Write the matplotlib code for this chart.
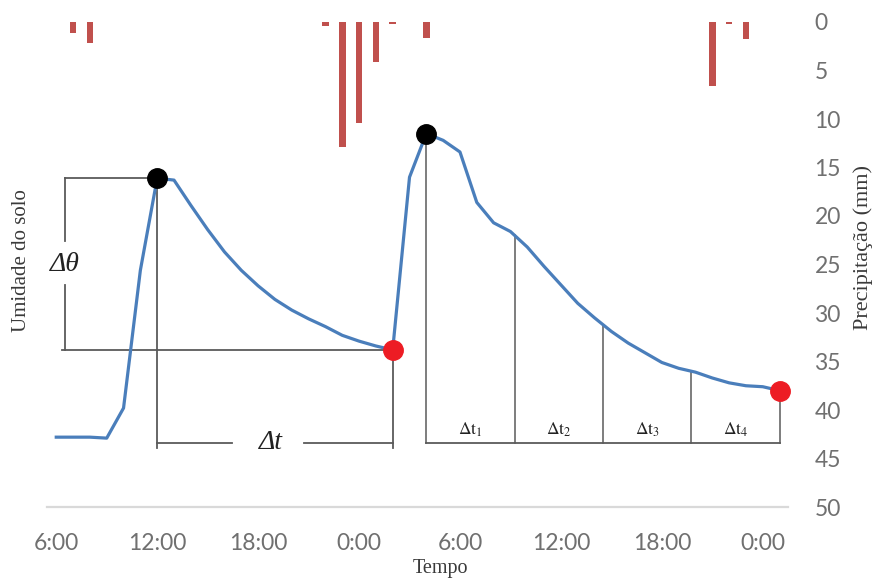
import numpy as np
import matplotlib.pyplot as plt

plt.rcParams['mathtext.fontset'] = 'stix'

# Umidade do solo (unidade arbitraria), uma leitura por hora a partir das 6:00
horas = np.arange(44)
umidade = [7.2, 7.2, 7.2, 7.1, 10.2, 24.4, 33.9, 33.7, 31.1, 28.6,
           26.3, 24.4, 22.8, 21.4, 20.3, 19.4, 18.6, 17.7, 17.1, 16.6,
           16.2, 34.0, 38.5, 37.8, 36.6, 31.4, 29.3, 28.4, 26.8, 24.8,
           22.9, 21.0, 19.5, 18.1, 16.9, 15.9, 14.9, 14.3, 13.9, 13.3,
           12.8, 12.5, 12.4, 12.0]

# Precipitacao (mm)
horas_chuva = [1, 2, 16, 17, 18, 19, 20, 22, 39, 40, 41]
chuva = [1.1, 2.2, 0.4, 12.9, 10.4, 4.1, 0.2, 1.7, 6.6, 0.2, 1.8]

ticks_x = [0, 6, 12, 18, 24, 30, 36, 42]
rotulos_x = ['6:00', '12:00', '18:00', '0:00', '6:00', '12:00', '18:00', '0:00']

# indices dos picos e dos fins de cada evento
i_pico1, i_fim1, i_pico2, i_fim2 = 6, 20, 22, 43

azul = '#4A7EBB'
cinza = '#5a5a5a'
umidade = np.array(umidade)

fig = plt.figure(figsize=(8.72, 5.78), dpi=100)
ax = fig.add_axes([47/872, 71/578, 741/872, 485/578])
ax2 = ax.twinx()

ax.bar(horas_chuva, chuva, width=0.4, color='#C0504D')
ax.set_xlim(-0.55, 43.5)
ax.set_ylim(50, 0)
ax.set_yticks(range(0, 51, 5))
ax.yaxis.tick_right()
ax.set_xticks(ticks_x)
ax.set_xticklabels(rotulos_x)
ax.tick_params(axis='both', length=0, labelsize=16.5, labelcolor='#707070')
ax.tick_params(axis='y', pad=19)
ax.tick_params(axis='x', pad=19)
for lab in ax.get_xticklabels() + ax.get_yticklabels():
    lab.set_family('Lato')
for s in ['top', 'left', 'right']:
    ax.spines[s].set_visible(False)
ax.spines['bottom'].set_color('#d9d9d9')
ax.spines['bottom'].set_linewidth(1.6)

ax2.set_ylim(0, 50)
ax2.set_yticks([])
for s in ax2.spines.values():
    s.set_visible(False)

ax2.plot(horas, umidade, color=azul, lw=2.3, zorder=3)

# Delta theta
xb = 0.5
t_top, t_bot = umidade[i_pico1], umidade[i_fim1]
t_mid = (t_top + t_bot) / 2
ax2.plot([xb, horas[i_pico1]], [t_top, t_top], color=cinza, lw=1.3)
ax2.plot([0.35, horas[i_fim1]], [t_bot, t_bot], color=cinza, lw=1.3)
ax2.plot([xb, xb], [t_top, t_mid + 2.4], color=cinza, lw=1.3)
ax2.plot([xb, xb], [t_mid - 2.2, t_bot], color=cinza, lw=1.3)
ax2.text(xb, t_mid, 'Δθ', fontsize=20, style='italic', family='Liberation Serif',
         ha='center', va='center', color='#222222')

# Delta t (primeiro evento)
yb = 6.6
h1, h2 = horas[i_pico1], horas[i_fim1]
ax2.plot([h1, h1], [umidade[i_pico1], 6.1], color=cinza, lw=1.3)
ax2.plot([h2, h2], [umidade[i_fim1], 6.1], color=cinza, lw=1.3)
ax2.plot([h1, 10.45], [yb, yb], color=cinza, lw=1.3)
ax2.plot([14.75, h2], [yb, yb], color=cinza, lw=1.3)
ax2.text(12.75, yb, 'Δt', fontsize=20, style='italic', family='Liberation Serif',
         ha='center', va='center', color='#222222')

# Delta t1..t4 (segundo evento)
cortes = np.linspace(horas[i_pico2], horas[i_fim2], 5)
ax2.plot([cortes[0], cortes[-1]], [yb, yb], color=cinza, lw=1.3)
for c in cortes:
    ax2.plot([c, c], [np.interp(c, horas, umidade), yb], color=cinza, lw=1.1)
for k in range(4):
    ax2.text((cortes[k] + cortes[k+1]) / 2, 7.0, r'$\Delta\mathrm{t}_{%d}$' % (k + 1),
             fontsize=12.5, ha='center', va='bottom', color='#222222')

# pontos de pico e de fim
ax2.plot(horas[[i_pico1, i_pico2]], umidade[[i_pico1, i_pico2]], 'o',
         color='black', ms=14, zorder=5, clip_on=False)
ax2.plot(horas[[i_fim1, i_fim2]], umidade[[i_fim1, i_fim2]], 'o',
         color='#ED1C24', ms=14, zorder=5, clip_on=False)

fig.text(22/872, 1 - 261/578, 'Umidade do solo', rotation=90, ha='center', va='center',
         fontsize=15, family='Liberation Serif', color='#3a3a3a')
fig.text(863/872, 1 - 248/578, 'Precipitação (mm)', rotation=90, ha='center', va='center',
         fontsize=16, family='Liberation Serif', color='#3a3a3a')
fig.text(440/872, 1 - 568/578, 'Tempo', ha='center', va='center',
         fontsize=14.5, family='Liberation Serif', color='#3a3a3a')

fig.savefig('out.png', dpi=100)
